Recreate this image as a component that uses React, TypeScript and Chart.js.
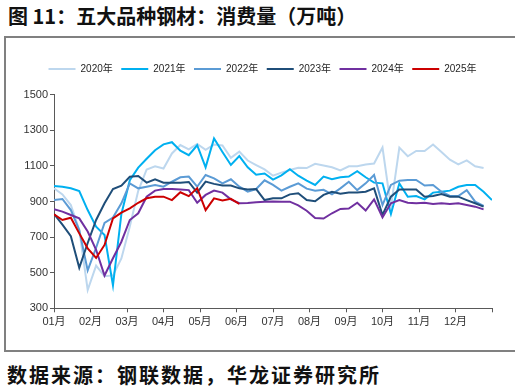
import React, { useEffect, useRef } from 'react';
import { Chart, registerables } from 'chart.js';

Chart.register(...registerables);

const seriesNames = ['2020年', '2021年', '2022年', '2023年', '2024年', '2025年'];
const seriesColors = ['#BDD7EE', '#00B0F0', '#5B9BD5', '#1F4E79', '#7030A0', '#CC0000'];

const v2020 = [974, 940, 880, 740, 403, 540, 480, 485, 580, 760, 960, 1080, 1098, 1085, 1170, 1217, 1193, 1223, 1190, 1220, 1215, 1145, 1180, 1130, 1105, 1080, 1045, 1062, 1077, 1090, 1088, 1112, 1102, 1092, 1075, 1098, 1098, 1108, 1113, 1203, 870, 1203, 1154, 1184, 1184, 1220, 1178, 1135, 1109, 1131, 1098, 1088];
const v2021 = [987, 983, 974, 959, 852, 759, 712, 428, 830, 1020, 1090, 1140, 1188, 1221, 1233, 1186, 1160, 1216, 1092, 1254, 1178, 1105, 1155, 1092, 1050, 1057, 1023, 1047, 1081, 1045, 1017, 993, 1040, 1025, 1036, 1040, 1070, 1036, 1006, 1002, 830, 1002, 927, 931, 912, 950, 955, 961, 983, 993, 993, 955, 908];
const v2022 = [908, 914, 852, 740, 513, 640, 780, 810, 890, 1002, 974, 983, 993, 983, 1011, 1036, 1040, 983, 1049, 1030, 1002, 1025, 983, 955, 970, 1019, 993, 961, 983, 1002, 972, 960, 966, 940, 974, 1011, 964, 1002, 1049, 880, 993, 1017, 1021, 1021, 990, 993, 955, 931, 931, 964, 899, 875];
const v2023 = [830, 770, 705, 528, 667, 796, 890, 970, 989, 1039, 1043, 1006, 1025, 1006, 1006, 1006, 1010, 950, 1012, 999, 990, 990, 974, 968, 970, 908, 918, 918, 940, 946, 908, 901, 937, 955, 944, 950, 950, 955, 974, 824, 927, 968, 968, 968, 927, 931, 942, 927, 927, 908, 890, 871];
const v2024 = [856, 843, 824, 805, 731, 628, 484, 581, 674, 796, 834, 927, 961, 970, 970, 968, 964, 893, 937, 961, 950, 912, 890, 891, 896, 899, 900, 899, 899, 878, 848, 807, 804, 834, 858, 860, 893, 849, 912, 811, 890, 908, 893, 890, 893, 886, 890, 886, 890, 880, 871, 856];
const v2025 = [828, 796, 809, 721, 637, 583, 656, 805, 837, 862, 893, 918, 927, 927, 908, 952, 930, 975, 852, 918, 906, 915, 886];

const seriesValues = [v2020, v2021, v2022, v2023, v2024, v2025];
const monthLabels = ['01月', '02月', '03月', '04月', '05月', '06月', '07月', '08月', '09月', '10月', '11月', '12月'];
const yMin = 300;
const yMax = 1500;
const yStep = 200;
const weeksInYear = 52;

const titleText = '图 11：五大品种钢材：消费量（万吨）';
const sourceText = '数据来源：钢联数据，华龙证券研究所';

const FONT = "'Liberation Sans', Arial, 'Noto Sans CJK SC', sans-serif";

const legendSpacer = {
  id: 'legendSpacer',
  beforeInit(chart: any) {
    const legend = chart.legend;
    if (!legend) return;
    const origFit = legend.fit;
    legend.fit = function () {
      origFit.call(this);
      this.height += 10.7;
    };
  },
};

export default function App() {
  const canvasRef = useRef<HTMLCanvasElement | null>(null);

  useEffect(() => {
    const canvas = canvasRef.current;
    if (!canvas) return;
    const axisColor = '#595959';
    const chart = new Chart(canvas, {
      type: 'line',
      data: {
        datasets: seriesValues.map((vals, si) => ({
          label: seriesNames[si],
          data: vals.map((v, i) => ({ x: i, y: v })),
          borderColor: seriesColors[si],
          backgroundColor: seriesColors[si],
          borderWidth: 2,
          pointRadius: 0,
          tension: 0,
          fill: false,
          yAxisID: 'y',
          order: seriesValues.length - si,
        })),
      },
      plugins: [legendSpacer],
      options: {
        animation: false,
        responsive: false,
        devicePixelRatio: 1,
        layout: { padding: { top: 15.5, left: 16, right: 0, bottom: 0 } },
        font: { family: FONT },
        plugins: {
          legend: {
            display: true,
            position: 'top',
            labels: {
              usePointStyle: true,
              pointStyle: 'line',
              pointStyleWidth: 27,
              padding: 8.5,
              color: '#262626',
              font: { size: 10, family: FONT },
              sort: (a: any, b: any) => a.datasetIndex - b.datasetIndex,
            },
          },
          tooltip: { enabled: false },
          title: { display: false },
        },
        scales: {
          x: {
            type: 'linear',
            min: 0,
            max: weeksInYear,
            afterFit: (s: any) => { s.height = 21.7; },
            afterBuildTicks: (s: any) => {
              s.ticks = Array.from({ length: 13 }, (_, k) => ({ value: (k * weeksInYear) / 12 }));
            },
            ticks: {
              autoSkip: false,
              maxRotation: 0,
              padding: 3,
              color: '#333333',
              font: { size: 11, family: FONT },
              callback: (_v: any, idx: number) => monthLabels[idx] ?? '',
            },
            grid: { display: true, drawOnChartArea: false, drawTicks: true, tickLength: 4, color: axisColor },
            border: { display: true, color: axisColor, width: 1 },
          },
          y: {
            position: 'left',
            min: yMin,
            max: yMax,
            afterFit: (s: any) => { s.width = 30; },
            ticks: {
              stepSize: yStep,
              padding: 2,
              color: '#333333',
              font: { size: 11, family: FONT },
              callback: (v: any) => String(v),
            },
            grid: { display: true, drawOnChartArea: false, drawTicks: true, tickLength: 4, color: axisColor },
            border: { display: true, color: axisColor, width: 1 },
          },
          yRightSpacer: {
            position: 'right',
            display: true,
            afterFit: (s: any) => { s.width = 9; },
            ticks: { display: false },
            grid: { display: false, drawTicks: false },
            border: { display: false },
          },
        },
      },
    } as any);
    return () => chart.destroy();
  }, []);

  return (
    <div style={{ position: 'fixed', left: 0, top: 0, width: 521, height: 392, background: '#fff', overflow: 'hidden' }}>
      <div
        style={{
          position: 'absolute', left: 8, top: 6, fontSize: 20, lineHeight: '20px', fontWeight: 700,
          fontFamily: "'Noto Sans CJK SC', sans-serif", color: '#111', whiteSpace: 'nowrap',
        }}
      >
        {titleText}
      </div>
      <div style={{ position: 'absolute', left: 5, top: 36, width: 510, height: 2, background: '#808080' }} />
      <div style={{ position: 'absolute', left: 4, top: 36, width: 2, height: 316, background: '#808080' }} />
      <div style={{ position: 'absolute', left: 5, top: 350, width: 510, height: 2, background: '#808080' }} />
      <canvas
        ref={canvasRef}
        width={493}
        height={290}
        style={{ position: 'absolute', left: 8, top: 40, width: 493, height: 290 }}
      />
      <div
        style={{
          position: 'absolute', left: 7, top: 365, fontSize: 20, lineHeight: '20px', fontWeight: 700,
          letterSpacing: 2, fontFamily: "'Noto Sans CJK SC', sans-serif", color: '#111', whiteSpace: 'nowrap',
        }}
      >
        {sourceText}
      </div>
    </div>
  );
}
